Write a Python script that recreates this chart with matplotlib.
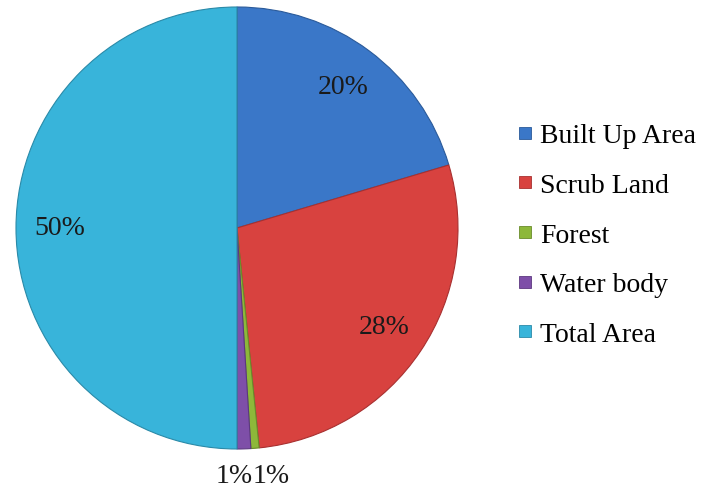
import numpy as np
import matplotlib
matplotlib.use("Agg")
import matplotlib.pyplot as plt
from matplotlib.lines import Line2D

plt.rcParams['font.family'] = ['Liberation Serif', 'DejaVu Serif']

# Land use shares (%)
categories = ["Built Up Area", "Scrub Land", "Forest", "Water body", "Total Area"]
shares = [20.4, 28.0, 0.6, 1.0, 50.0]
colors = ["#3A77C8", "#D8423F", "#8DB83A", "#7E4FA8", "#38B4DA"]
edges = ["#2A5A9A", "#A83030", "#6A8C2A", "#5C3880", "#2A8AA8"]

fig = plt.figure(figsize=(7.07, 4.89), dpi=100)
ax = fig.add_axes([16 / 707, 39 / 489, 442 / 707, 442 / 489])

wedges, _ = ax.pie(shares, colors=colors, startangle=90, counterclock=False,
                   radius=1.0, wedgeprops=dict(linewidth=0.8))
for w, ec in zip(wedges, edges):
    w.set_edgecolor(ec)

ax.set_xlim(-1, 1)
ax.set_ylim(-1, 1)
ax.set_aspect('equal')
ax.axis('off')

# percentage labels: inside for big slices, below the pie for the thin ones
for i, (w, v) in enumerate(zip(wedges, shares)):
    txt = "%.0f%%" % v
    if v >= 5:
        mid = np.deg2rad((w.theta1 + w.theta2) / 2)
        ax.text(0.8 * np.cos(mid), 0.8 * np.sin(mid), txt, ha='center', va='center',
                fontsize=20, color='#1a1a1a')

# forest and water labels sit side by side under their shared boundary
b = np.deg2rad(wedges[2].theta1)
bx = 1.1 * np.cos(b)
ax.text(bx, -1.12, "%.0f%%" % shares[3], ha='right', va='center', fontsize=20,
        color='#1a1a1a', clip_on=False)
ax.text(bx, -1.12, "%.0f%%" % shares[2], ha='left', va='center', fontsize=20,
        color='#1a1a1a', clip_on=False)

handles = [Line2D([], [], marker='s', linestyle='none', markersize=9,
                  markerfacecolor=c, markeredgecolor=e, markeredgewidth=0.6)
           for c, e in zip(colors, edges)]
fig.legend(handles, categories, loc='center left', bbox_to_anchor=(504 / 707, 1 - 236 / 489),
           frameon=False, fontsize=20, handlelength=0.5, handletextpad=0.3,
           labelspacing=0.87, borderpad=0)

fig.savefig("out.png", dpi=100)
